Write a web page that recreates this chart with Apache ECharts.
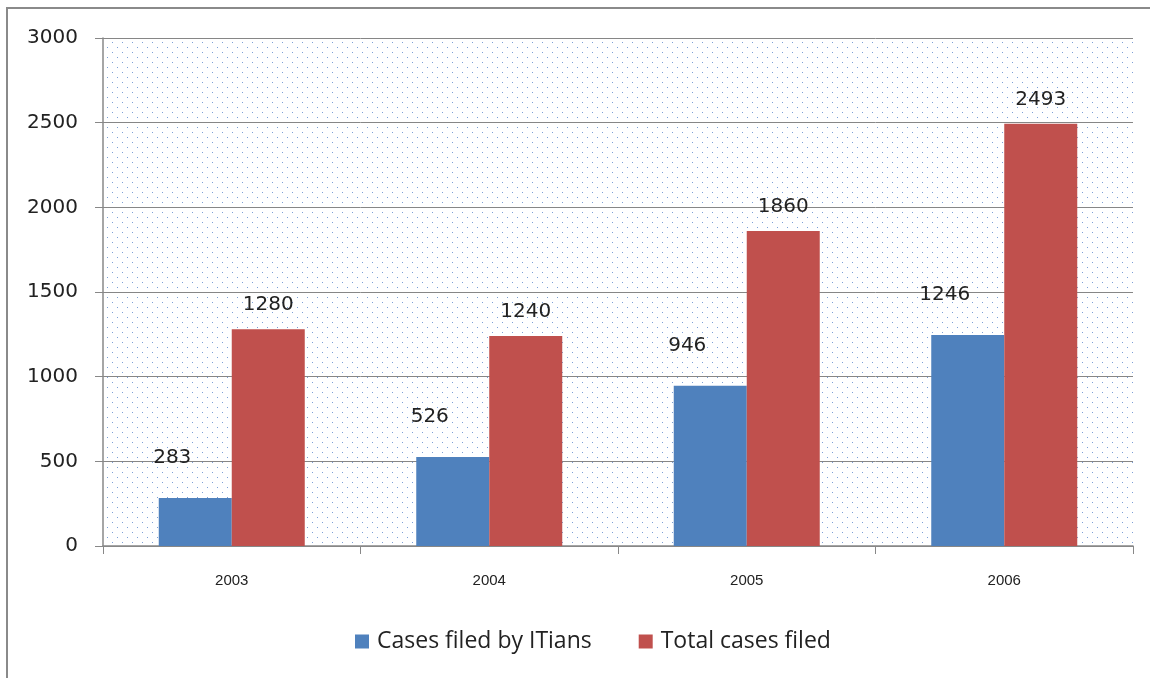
<!DOCTYPE html>
<html><head><meta charset="utf-8">
<script src="https://cdn.jsdelivr.net/npm/echarts@6/dist/echarts.min.js"></script>
<style>html,body{margin:0;padding:0;background:#fff}#c{width:1150px;height:678px}</style>
</head><body><div id="c"></div>
<script>
var categories = ['2003', '2004', '2005', '2006'];
var itiansCases = [283, 526, 946, 1246];
var totalCases = [1280, 1240, 1860, 2493];
var yTicks = {min: 0, max: 3000, interval: 500};

var pc = document.createElement('canvas');
pc.width = 10; pc.height = 10;
var ctx = pc.getContext('2d');
ctx.fillStyle = '#fff'; ctx.fillRect(0,0,10,10);
ctx.fillStyle = '#7c9fd6';
ctx.fillRect(2,2,1,1);
ctx.fillRect(7,7,1,1);

var chart = echarts.init(document.getElementById('c'));
chart.setOption({
  animation: false,
  backgroundColor: '#fff',
  graphic: [
    {type:'polyline', shape:{points:[[7,678],[7,8],[1150,8]]}, style:{stroke:'#8a8a8a', lineWidth:2, fill:null}}
  ],
  grid: {left:103, right:17, top:38, bottom:132, show:true, borderWidth:0,
         backgroundColor:{image: pc, repeat:'repeat'}},
  legend: {
    bottom: 20, left: 350, itemWidth: 14, itemHeight: 14, itemGap: 47,
    icon: 'rect',
    textStyle: {fontFamily:'Open Sans', fontSize:23, color:'#222', padding:[0,0,0,3]},
    data: ['Cases filed by ITians', 'Total cases filed']
  },
  xAxis: {
    type:'category', data: categories,
    axisLine:{lineStyle:{color:'#888', width:1.5}},
    axisTick:{show:true, length:8, alignWithLabel:false, lineStyle:{color:'#888'}},
    axisLabel:{fontFamily:'Liberation Sans', fontSize:15, color:'#222', margin:27}
  },
  yAxis: {
    type:'value', min:yTicks.min, max:yTicks.max, interval:yTicks.interval,
    axisLine:{show:true, lineStyle:{color:'#888', width:1.5}},
    axisTick:{show:true, length:8, lineStyle:{color:'#888'}},
    axisLabel:{fontFamily:'DejaVu Sans', fontSize:20, color:'#222', margin:25,
               formatter: function(v){ return String(v); }},
    splitLine:{show:true, lineStyle:{color:'#868686', width:1}}
  },
  series: [
    {name:'Cases filed by ITians', type:'bar', data: itiansCases, barWidth:73, barGap:'0%',
     itemStyle:{color:'#4f81bd'},
     label:{show:true, position:'top', distance:30, offset:[-23,0], fontFamily:'DejaVu Sans', fontSize:20, color:'#222'}},
    {name:'Total cases filed', type:'bar', data: totalCases, barWidth:73,
     itemStyle:{color:'#c0504d'},
     label:{show:true, position:'top', distance:14, fontFamily:'DejaVu Sans', fontSize:20, color:'#222'}}
  ]
});
</script></body></html>
